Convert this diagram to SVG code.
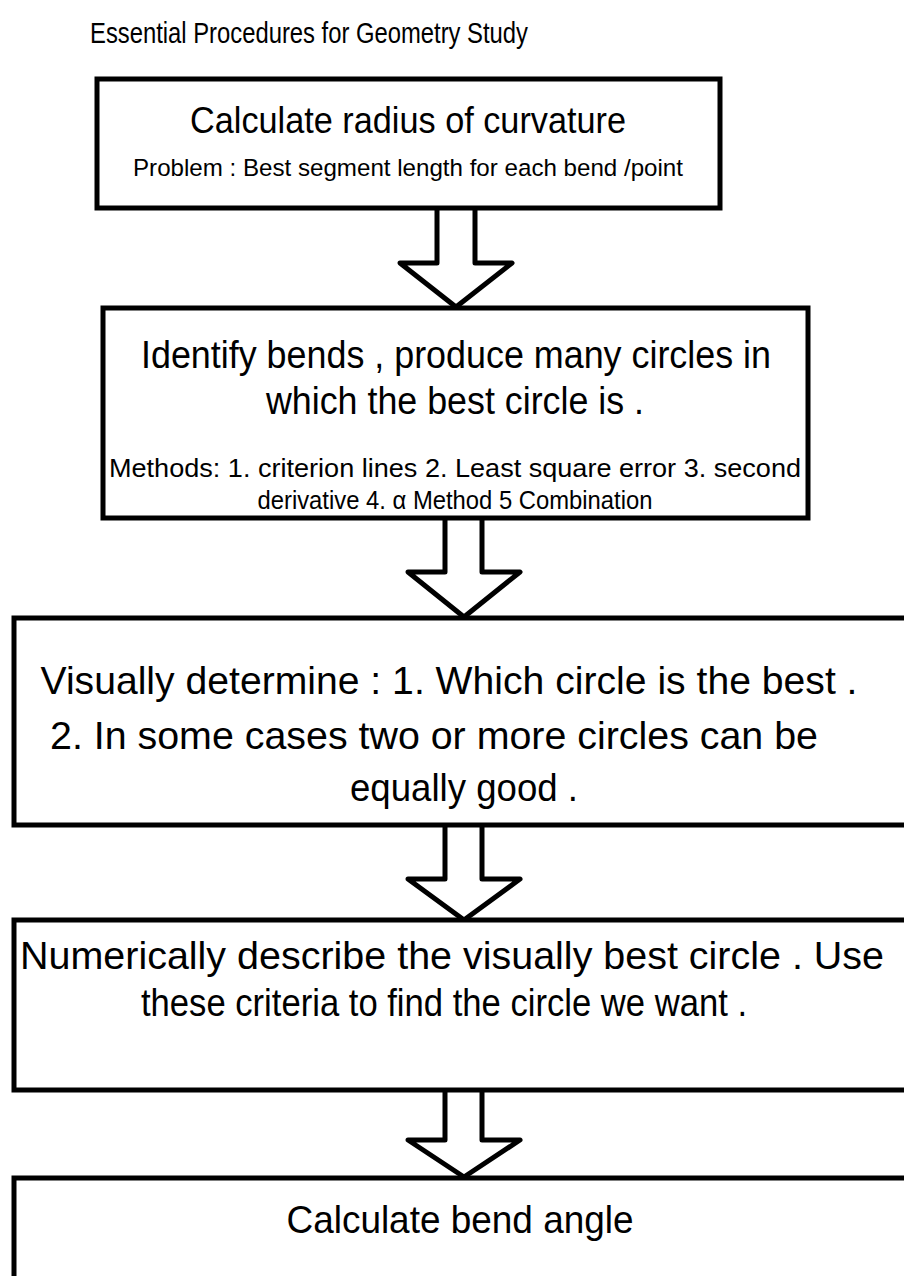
<svg xmlns="http://www.w3.org/2000/svg" width="904" height="1276" viewBox="0 0 904 1276">
  <style>
    .box { fill: #fff; stroke: #000; stroke-width: 5; }
    .arrow { fill: #fff; stroke: #000; stroke-width: 5; stroke-linejoin: round; }
    text { font-family: "Liberation Sans", Arial, sans-serif; fill: #000; text-anchor: middle; }
    .title { font-size: 29px; }
    .big { font-size: 39px; }
    .small { font-size: 26px; }
  </style>
  <rect width="904" height="1276" fill="#fff"/>

  <text class="title" x="309" y="43" textLength="438" lengthAdjust="spacingAndGlyphs">Essential Procedures for Geometry Study</text>

  <!-- connectors: hollow block arrows between steps -->
  <g id="connectors">
    <polygon class="arrow" points="437,206 437,263 400,263 456,307 512,263 475,263 475,206"/>
    <polygon class="arrow" points="445,516 445,572 408,572 464,617 520,572 482,572 482,516"/>
    <polygon class="arrow" points="445,823 445,879 408,879 464,920 520,879 482,879 482,823"/>
    <polygon class="arrow" points="445,1088 445,1140 408,1140 464,1177 520,1140 482,1140 482,1088"/>
  </g>

  <g id="step1">
    <rect class="box" x="97" y="79" width="623" height="129"/>
    <text class="big" x="408" y="133" style="font-size:36px" textLength="436" lengthAdjust="spacingAndGlyphs">Calculate radius of curvature</text>
    <text class="small" x="408" y="176" style="font-size:24.5px" textLength="550" lengthAdjust="spacingAndGlyphs">Problem : Best segment length for each bend /point</text>
  </g>

  <g id="step2">
    <rect class="box" x="103" y="308" width="705" height="210"/>
    <text class="big" x="456" y="368" style="font-size:38px" textLength="630" lengthAdjust="spacingAndGlyphs">Identify bends , produce many circles in</text>
    <text class="big" x="455" y="414" style="font-size:38px" textLength="378" lengthAdjust="spacingAndGlyphs">which the best circle is  .</text>
    <text class="small" x="455" y="477" textLength="692" lengthAdjust="spacingAndGlyphs">Methods: 1. criterion lines 2. Least square error  3. second</text>
    <text class="small" x="455" y="509" textLength="395" lengthAdjust="spacingAndGlyphs">derivative 4. α Method 5 Combination</text>
  </g>

  <g id="step3">
    <rect class="box" x="14" y="618" width="900" height="207"/>
    <text class="big" x="449" y="694" textLength="817" lengthAdjust="spacingAndGlyphs">Visually determine : 1. Which circle is the best .</text>
    <text class="big" x="434" y="749" textLength="768" lengthAdjust="spacingAndGlyphs">2. In some cases two or more circles can be</text>
    <text class="big" x="464" y="801" textLength="228" lengthAdjust="spacingAndGlyphs">equally good .</text>
  </g>

  <g id="step4">
    <rect class="box" x="14" y="920" width="900" height="170"/>
    <text class="big" x="452" y="969" textLength="864" lengthAdjust="spacingAndGlyphs">Numerically describe the visually best circle  . Use</text>
    <text class="big" x="444" y="1016" textLength="606" lengthAdjust="spacingAndGlyphs">these criteria to find the circle we want  .</text>
  </g>

  <g id="step5">
    <rect class="box" x="14" y="1178" width="900" height="140"/>
    <text class="big" x="460" y="1233" textLength="347" lengthAdjust="spacingAndGlyphs">Calculate bend angle</text>
  </g>
</svg>
